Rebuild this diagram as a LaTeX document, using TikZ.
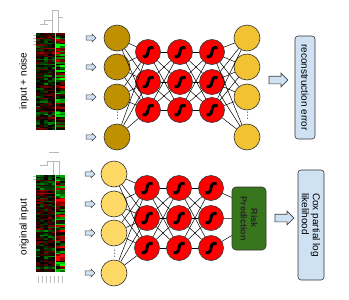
\documentclass[tikz,border=0pt]{standalone}
\usepackage{fontspec}
\setmainfont{Liberation Sans}
\usetikzlibrary{shapes.arrows}
\definecolor{goldin}{HTML}{BF9000}
\definecolor{goldout}{HTML}{F1C232}
\definecolor{yellowin}{HTML}{FFD966}
\definecolor{boxblue}{HTML}{CFE2F3}
\definecolor{riskgreen}{HTML}{38761D}
\newcommand\myheatmap[3]{%
  \pgfmathsetseed{#3}%
  \foreach \r in {0,...,59}{%
    \pgfmathsetmacro\rowv{rand}%
    \pgfmathsetmacro\rowr{rand}%
    \foreach \c/\xa/\xb in {0/0/3.9,1/3.9/7.8,2/7.8/11.7,3/11.7/15.6,4/15.6/19.5,5/19.5/24.2,6/24.2/29}{%
      \pgfmathsetmacro\v{\c>4 ? 0.75*\rowr+0.35*rand : 0.55*\rowv+0.55*rand}%
      \pgfmathtruncatemacro\s{\v>0}%
      \pgfmathtruncatemacro\p{min(100,abs(\v)*(\c>4 ? 115 : 60))}%
      \ifnum\s=1 \def\mycol{red}\else\def\mycol{green}\fi
      \fill[\mycol!\p!black] (#1+\xa,#2+\r*1.617) rectangle (#1+\xb,#2+\r*1.617+1.7);
    }%
  }%
}
\begin{document}
\begin{tikzpicture}[x=1pt,y=-1pt,
  every node/.style={font=\fontsize{10}{11}\selectfont},
  neuron/.style={circle, draw=black!80, line width=0.6pt, inner sep=0pt, minimum size=26pt},
  inT/.style={neuron, fill=goldin},
  outT/.style={neuron, fill=goldout},
  inB/.style={neuron, fill=yellowin},
  sig/.style={neuron, fill=red, minimum size=25pt,
    path picture={\draw[black, line width=3pt]
      ([shift={(-5.5,4.5)}]path picture bounding box.center) -- ++(3,0)
      .. controls +(3,0) and +(-3,0) .. ++(5,-9) -- ++(3,0);}},
  edge/.style={line width=0.5pt, black},
  smallarrow/.style={single arrow, draw=black!75, fill=boxblue, line width=0.6pt,
    inner xsep=0pt, inner ysep=1.8pt, minimum height=10pt, minimum width=7.5pt, single arrow head extend=1.8pt},
  bigarrow/.style={single arrow, draw=black!75, fill=boxblue, line width=0.7pt,
    inner xsep=0pt, inner ysep=3.5pt, minimum height=19pt, minimum width=13pt, single arrow head extend=3pt},
  lossbox/.style={draw=black!80, fill=boxblue, rounded corners=3pt, line width=0.6pt, rotate=-90},
  dendro/.style={gray!55, line width=0.5pt}
]
\useasboundingbox (0,0) rectangle (349,300);

% ---------- heatmaps ----------
\myheatmap{36}{33}{7}
\myheatmap{36}{175}{23}
\draw[gray!60, line width=0.8pt] (55.5,33) -- (55.5,130);
\draw[gray!60, line width=0.8pt] (55.5,175) -- (55.5,272);
% dendrograms (top)
\draw[dendro] (52,33) -- (52,10) -- (58,10) -- (58,33);
\draw[dendro] (40,24) -- (48,24);
\draw[dendro] (44,24) -- (44,20) -- (52,20);
\draw[dendro] (58,17) -- (63,17);
\draw[dendro] (33,35) -- (36,35) (33,38) -- (36,38) (34,41) -- (36,41) (33,44) -- (36,44);
% dendrograms (bottom)
\draw[dendro] (49,152) -- (59,152);
\draw[dendro] (53,175) -- (53,161) -- (59,161) -- (59,175);
\draw[dendro] (40,165) -- (47,165) -- (47,161) -- (53,161);
\draw[dendro] (33,176) -- (36,176) (33,179) -- (36,179);
\foreach \tx in {38,42,46,50,54,58,62}{\draw[gray!50, line width=0.5pt] (\tx,276) -- (\tx,283);}

% labels
\node[rotate=90] (lblT) at (24,81) {input + noise};
\node[rotate=90] (lblB) at (24,227) {original input};

% ---------- top network ----------
\foreach \i/\y in {1/38,2/67,3/97,4/137}{
  \node[inT] (ti\i) at (117,\y) {};
  \node[outT] (to\i) at (247,\y) {};
  \node[smallarrow] (tar\i) at (90,\y) {};
}
\foreach \c/\x in {1/148,2/180,3/212}{
  \foreach \j/\y in {1/52,2/82,3/110}{
    \node[sig] (t\c\j) at (\x,\y) {};
  }
}
\foreach \a in {1,...,4}{\foreach \b in {1,2,3}{
  \draw[edge] (ti\a) -- (t1\b);
  \draw[edge] (t3\b) -- (to\a);
}}
\foreach \a in {1,2,3}{\foreach \b in {1,2,3}{
  \draw[edge] (t1\a) -- (t2\b);
  \draw[edge] (t2\a) -- (t3\b);
}}
\foreach \yy in {112,115,118}{
  \fill (117.5,\yy) circle (0.5pt);
  \fill (247.5,\yy) circle (0.5pt);
}
\node[bigarrow] (ra) at (276.5,80) {};
\node[lossbox, minimum width=103pt, minimum height=20pt] (rec) at (305,87.5) {reconstruction error};

% ---------- bottom network ----------
\foreach \i/\y in {1/174,2/204,3/233,4/273}{
  \node[inB] (bi\i) at (114,\y) {};
  \node[smallarrow] (bar\i) at (89,\y) {};
}
\foreach \c/\x in {1/147,2/179,3/211}{
  \foreach \j/\y in {1/188,2/218,3/248}{
    \node[sig] (b\c\j) at (\x,\y) {};
  }
}
\foreach \a in {1,...,4}{\foreach \b in {1,2,3}{
  \draw[edge] (bi\a) -- (b1\b);
}}
\foreach \a in {1,2,3}{\foreach \b in {1,2,3}{
  \draw[edge] (b1\a) -- (b2\b);
  \draw[edge] (b2\a) -- (b3\b);
}}
\foreach \yy in {250,253,256}{
  \fill (114.5,\yy) circle (0.5pt);
}
\node[draw=black!80, fill=riskgreen, rounded corners=4pt, line width=0.6pt, rotate=-90,
  minimum width=63pt, minimum height=34pt, align=center,
  font=\fontsize{9}{10.5}\selectfont\bfseries, text=black!85] (risk) at (249,218.5) {Risk\\Prediction};
\draw[edge] (b31) -- ([shift={(0,-21)}]risk.south);
\draw[edge] (b32) -- (risk.south);
\draw[edge] (b33) -- ([shift={(0,17)}]risk.south);
\node[bigarrow] (ca) at (282.5,218) {};
\node[lossbox, minimum width=110pt, minimum height=26pt, align=left] (cox) at (311,225) {Cox partial log\\likelihood};
\end{tikzpicture}
\end{document}
